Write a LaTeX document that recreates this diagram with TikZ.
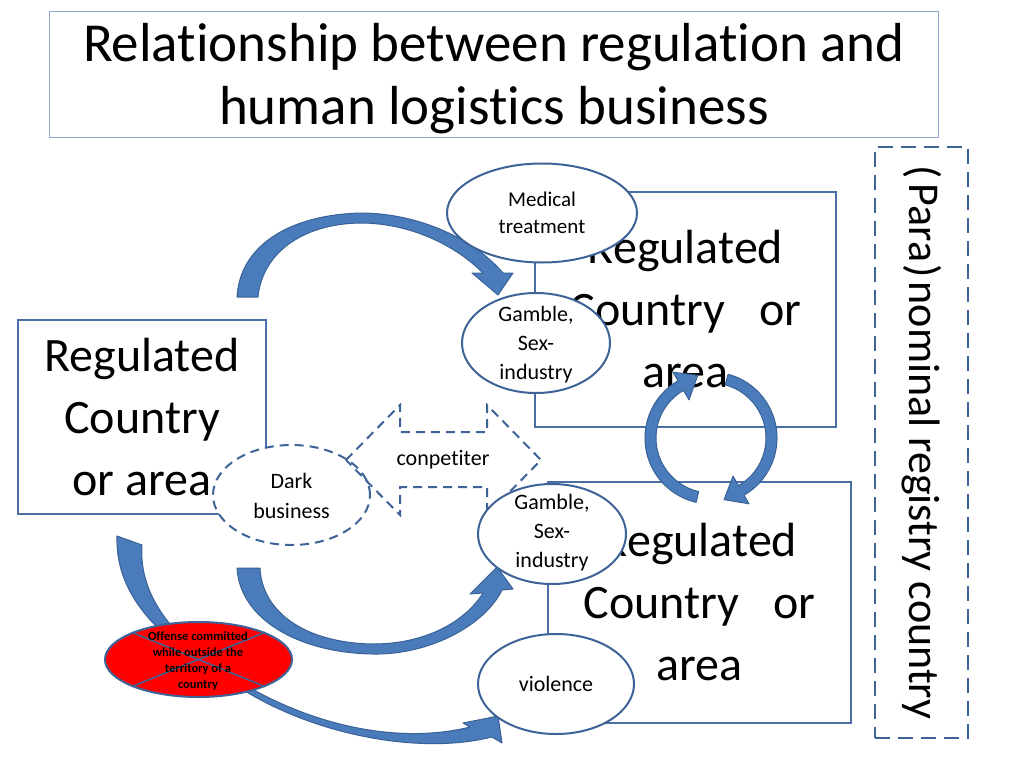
\documentclass[tikz,border=0pt]{standalone}
\usepackage{fontspec}
\setmainfont{Carlito}[Ligatures=NoCommon]
\usetikzlibrary{calc,shapes.geometric}
\definecolor{boxblue}{HTML}{4A6FA5}
\definecolor{edgeblue}{HTML}{3E6396}
\definecolor{titleblue}{HTML}{8FA8D2}
\definecolor{arrowfill}{HTML}{4A7CBB}
\definecolor{arrowedge}{HTML}{3A6296}
\begin{document}
\begin{tikzpicture}[x=1pt,y=-1pt,
  box/.style={draw=boxblue, line width=2pt, inner sep=0pt, align=center, font=\fontsize{48}{62}\selectfont},
  bubble/.style={ellipse, draw=edgeblue, line width=2pt, fill=white, inner sep=0pt},
  smalltxt/.style={align=center, inner sep=0pt, font=\fontsize{22}{29}\selectfont},
  blockarrow/.style={fill=arrowfill, draw=arrowedge, line width=1pt, line join=round},
  dashline/.style={draw=edgeblue, line width=2pt, dash pattern=on 9pt off 6pt}]
\useasboundingbox (0,0) rectangle (1024,768);
\fill[white] (0,0) rectangle (1024,768);

% title
\node[draw=titleblue, line width=1pt, minimum width=889pt, minimum height=125pt] (title) at (493.5,74.5) {};
\node[align=center, inner sep=0pt, font=\fontsize{55}{63}\selectfont] (titletxt) at (494,79)
      {Relationship between regulation and\\human logistics business};

% registry box
\node[draw=edgeblue, line width=2pt, dash pattern=on 15pt off 8pt, minimum width=93pt, minimum height=591pt] (reg) at (921.5,442.5) {};
\node[rotate=-90, inner sep=0pt, font=\fontsize{44}{50}\selectfont] (regtxt) at (reg.center)
      {(\hspace{5pt}Para\hspace{2pt})\hspace{4pt}nominal registry country};

% country boxes
\node[box, minimum width=301pt, minimum height=235pt] (tr) at (685.5,309.5) {Regulated\\Country\hspace*{34pt}or\\area};
\node[box, minimum width=248pt, minimum height=194pt] (lb) at (142,417) {Regulated\\Country\\or area};
\node[box, minimum width=303pt, minimum height=241pt] (br) at (699.5,602.5) {Regulated\\Country\hspace*{34pt}or\\area};

% block arrows
\filldraw[blockarrow] (237,297) .. controls (240,245) and (290,215) .. (360,213)
  .. controls (420,213) and (475,240) .. (503,273) -- (513,273) -- (498,295) -- (472,273) -- (483,273)
  .. controls (455,245) and (410,223) .. (360,223)
  .. controls (300,224) and (262,255) .. (258,297) -- cycle;

\filldraw[blockarrow] (237,568) .. controls (240,620) and (300,653) .. (373,654)
  .. controls (430,655) and (485,625) .. (502,590) -- (513,589) -- (497,567) -- (470,594) -- (483,593)
  .. controls (465,622) and (425,644) .. (373,644)
  .. controls (305,643) and (262,612) .. (260,568) -- cycle;

\filldraw[blockarrow] (117,536) .. controls (115,600) and (165,645) .. (250,694)
  .. controls (320,735) and (420,755) .. (492,737) -- (502,743) -- (498,716) -- (463,723) -- (470,727)
  .. controls (410,742) and (330,732) .. (252,689)
  .. controls (180,648) and (138,600) .. (142,545) -- cycle;

\coordinate (C) at (711,438);
\filldraw[blockarrow] ($(C)+(103:66)$) arc[start angle=103, end angle=240, radius=66]
  -- ($(C)+(240:76)$) -- ($(C)+(258:64)$) -- ($(C)+(240:44)$) -- ($(C)+(240:55)$)
  arc[start angle=240, end angle=103, radius=55] -- cycle;
\filldraw[blockarrow] ($(C)+(285:66)$) arc[start angle=285, end angle=420, radius=66]
  -- ($(C)+(420:76)$) -- ($(C)+(438:63)$) -- ($(C)+(420:44)$) -- ($(C)+(420:55)$)
  arc[start angle=420, end angle=285, radius=55] -- cycle;

% ellipses
\node[bubble, minimum width=190pt, minimum height=99pt] (med) at (542,213) {};
\node[smalltxt, font=\fontsize{21}{27}\selectfont] (medtxt) at (med.center) {Medical\\treatment};
\node[bubble, minimum width=148pt, minimum height=100pt] (gs1) at (536,343) {};
\node[smalltxt] (gs1txt) at (536,345) {Gamble,\\Sex-\\industry};
\node[bubble, dash pattern=on 9pt off 6pt, minimum width=157pt, minimum height=100pt] (dark) at (291.5,495) {};
\node[smalltxt, font=\fontsize{22}{30}\selectfont] (darktxt) at (291.5,496) {Dark\\business};

% competitor double arrow
\draw[dashline] (346,460) -- (400,405) -- (400,432) -- (487,432) -- (487,405) -- (541,460)
  -- (487,515) -- (487,487) -- (400,487) -- (400,515) -- cycle;
\node[smalltxt] (comp) at (443,460) {conpetiter};

\node[bubble, minimum width=148pt, minimum height=100pt] (gs2) at (552,534) {};
\node[smalltxt] (gs2txt) at (552,533) {Gamble,\\Sex-\\industry};
\node[bubble, minimum width=156pt, minimum height=100pt] (vio) at (556,684) {};
\node[smalltxt] (viotxt) at (vio.center) {violence};

% offense
\node[bubble, fill=red, minimum width=187pt, minimum height=75pt] (off) at (198.5,659.5) {};
\draw[edgeblue, line width=1.5pt] (off.north west) -- (off.south east) (off.north east) -- (off.south west);
\node[align=center, inner sep=0pt, font=\bfseries\fontsize{12.5}{16}\selectfont] (offtxt) at (198,661)
  {Offense committed\\while outside the\\territory of a\\country};
\end{tikzpicture}
\end{document}
